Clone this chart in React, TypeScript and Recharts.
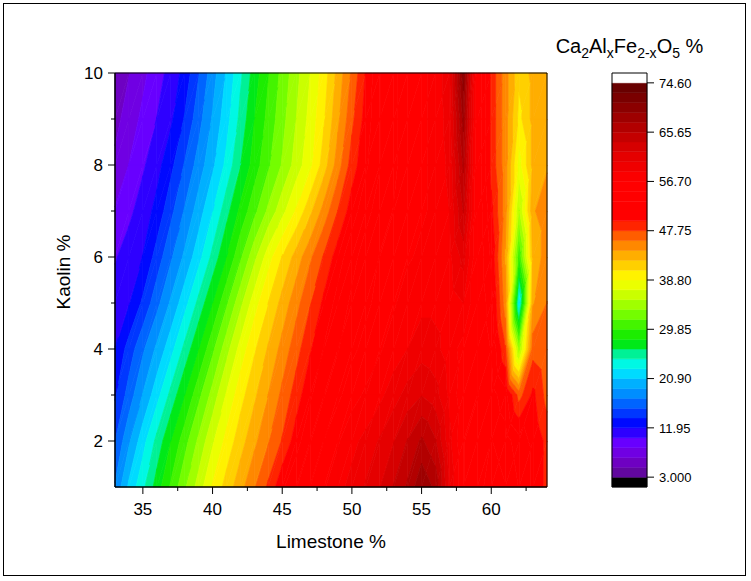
import React from 'react';
import { ScatterChart, Scatter, XAxis, YAxis, ReferenceArea } from 'recharts';

const FONT = '"Liberation Sans", Arial, Helvetica, sans-serif';

// Limestone % (x) and Kaolin % (y) grid
const limestone = [33, 34, 35, 36, 37, 38, 39, 40, 41, 42, 43, 44, 45, 46, 47, 48, 49, 50, 51, 52, 53, 54, 55, 56, 57, 58, 59, 60, 61, 62, 63, 64];
const kaolin = [1, 2, 3, 4, 5, 6, 7, 8, 9, 10];

// Ca2AlxFe2-xO5 % values, one array per Kaolin row (x = 33..64)
const kaolin1 = [17.5, 21.3, 24, 27.1, 30.1, 33.1, 36, 39, 41.3, 43.5, 45.8, 48.1, 51, 53, 55, 56.5, 58, 59, 60.5, 62, 64, 66, 69, 67, 60, 55, 54, 56, 55, 53, 51, 49];
const kaolin2 = [15.5, 18.8, 22, 25, 28, 30.9, 33.8, 36.7, 39.4, 41.6, 43.7, 45.8, 47.9, 50.5, 53, 55, 56.5, 58, 59, 60.5, 62, 64, 66, 64, 59, 55, 54, 55, 54, 52, 51, 49];
const kaolin3 = [13.5, 16.3, 19.2, 22, 25, 28, 31.1, 34.1, 37.2, 39.9, 42, 44.2, 46.4, 48.6, 51, 53, 54.5, 56, 57, 58, 59.5, 61, 62, 61, 58, 55.5, 55, 54, 52, 47, 50, 47];
const kaolin4 = [12, 14.5, 17, 19.5, 22, 25, 28, 31.2, 34.5, 37.7, 40.3, 42.6, 44.8, 47, 49.3, 51.5, 53, 54.5, 55.5, 56.5, 57.5, 58.5, 59.5, 59, 57.5, 56, 55, 53, 48, 34, 47, 46];
const kaolin5 = [11, 11.8, 14.1, 16.7, 19.4, 22, 25, 28, 31.3, 34.7, 38, 40.6, 43, 45.3, 47.6, 50, 52, 53.5, 54.5, 55.5, 56.5, 57.5, 58, 58, 57.5, 58.5, 55, 52, 45, 22, 44, 46];
const kaolin6 = [10, 11, 12, 14.5, 17, 19.5, 22, 25, 28, 31.3, 34.7, 38, 40.7, 43.1, 45.6, 48, 50.5, 52.5, 54, 55, 56, 56.5, 57, 57.5, 58, 61, 55, 51, 44, 30, 43, 45];
const kaolin7 = [8.5, 9.75, 11, 12.5, 15, 17.5, 20, 22.6, 25.6, 28.5, 31.1, 33.8, 36.4, 39, 41.9, 44.9, 47.8, 50.5, 52.5, 54, 55, 56, 56.5, 57, 58.5, 64, 55, 50, 45, 35, 44, 45];
const kaolin8 = [7, 8.4, 9.9, 11.3, 13.2, 15.7, 18.1, 20.5, 23.2, 26.2, 28.9, 31.3, 33.6, 36, 38.3, 41.5, 45.1, 48.6, 51, 53, 54.5, 56, 56.5, 57, 59, 66, 55, 49, 45, 38, 43, 44];
const kaolin9 = [6, 7.4, 8.8, 10.2, 11.6, 13.9, 16.6, 19.3, 22, 25, 28, 30.4, 32.8, 35.2, 37.6, 40.4, 43.8, 47.3, 50.3, 53, 54.5, 56, 56.5, 57, 59.5, 68, 55, 49, 45, 40, 43, 44];
const kaolin10 = [5, 6.5, 7.9, 9.4, 10.8, 12.6, 15.4, 18.3, 21.1, 24.1, 27.1, 29.7, 32.2, 34.6, 37, 39.7, 43, 46.3, 49.7, 53, 54.5, 56, 56.5, 57, 60, 70, 55, 49, 45, 41, 43, 44];
const grid = [kaolin1, kaolin2, kaolin3, kaolin4, kaolin5, kaolin6, kaolin7, kaolin8, kaolin9, kaolin10];

// Axis ticks
const xTicksMajor = [35, 40, 45, 50, 55, 60];
const xTicksMinor = [37.5, 42.5, 47.5, 52.5, 57.5, 62.5];
const yTicksMajor = [2, 4, 6, 8, 10];
const yTicksMinor = [3, 5, 7, 9];
const colorbarTicks = [3, 11.95, 20.9, 29.85, 38.8, 47.75, 56.7, 65.65, 74.6];
const levelsPerLabel = 5;

// contour level edges (each labelled interval split into 5 levels)
const levelEdges: number[] = [];
for (let i = 0; i < colorbarTicks.length - 1; i++) {
  for (let k = 0; k < levelsPerLabel; k++) {
    levelEdges.push(colorbarTicks[i] + ((colorbarTicks[i + 1] - colorbarTicks[i]) * k) / levelsPerLabel);
  }
}
levelEdges.push(colorbarTicks[colorbarTicks.length - 1]);
const NL = levelEdges.length - 1;
const levelStep = levelEdges[1] - levelEdges[0];

// colour map (style)
const colorStops: [number, string][] = [
  [3, '#5a0a8c'], [6, '#7000c8'], [9, '#7000ff'], [11, '#3000ff'], [12.5, '#0000ff'],
  [15, '#0040ff'], [17.5, '#0080ff'], [20, '#00b0ff'], [22, '#00e0ff'], [23.5, '#00f8e8'],
  [25.5, '#00f090'], [27.5, '#00e800'], [30, '#30f000'], [33, '#80ff00'], [36, '#c8ff00'],
  [39, '#ffff00'], [41.5, '#ffd000'], [44, '#ffa000'], [46.5, '#ff6800'], [48.5, '#ff2800'],
  [50, '#ff0000'], [57, '#ff0000'], [62, '#e00000'], [66, '#b80000'], [70, '#8c0000'], [74.6, '#600000'],
];
const hex = (h: string) => [parseInt(h.slice(1, 3), 16), parseInt(h.slice(3, 5), 16), parseInt(h.slice(5, 7), 16)];
function cmap(v: number): string {
  if (v <= colorStops[0][0]) return colorStops[0][1];
  for (let i = 1; i < colorStops.length; i++) {
    if (v <= colorStops[i][0]) {
      const [v0, c0] = colorStops[i - 1];
      const [v1, c1] = colorStops[i];
      const t = (v - v0) / (v1 - v0);
      const a = hex(c0), b = hex(c1);
      const c = a.map((x, k) => Math.round(x + (b[k] - x) * t));
      return `rgb(${c[0]},${c[1]},${c[2]})`;
    }
  }
  return colorStops[colorStops.length - 1][1];
}
function levelColor(k: number): string {
  if (k < 0) return '#000000';
  if (k >= NL) return '#ffffff';
  return cmap((levelEdges[k] + levelEdges[k + 1]) / 2);
}
function levelOf(v: number): number {
  if (v < levelEdges[0]) return -1;
  if (v >= levelEdges[NL]) return NL;
  return Math.min(NL - 1, Math.floor((v - levelEdges[0]) / levelStep));
}

type P = [number, number, number];
function clip(poly: P[], f: (p: P) => number): P[] {
  const out: P[] = [];
  for (let i = 0; i < poly.length; i++) {
    const a = poly[i];
    const b = poly[(i + 1) % poly.length];
    const fa = f(a), fb = f(b);
    if (fa >= 0) out.push(a);
    if ((fa >= 0) !== (fb >= 0)) {
      const t = fa / (fa - fb);
      out.push([a[0] + t * (b[0] - a[0]), a[1] + t * (b[1] - a[1]), a[2] + t * (b[2] - a[2])]);
    }
  }
  return out;
}

function renderCell(p: any, i: number, j: number) {
  const { x, y, width, height } = p;
  if (![x, y, width, height].every((n: any) => Number.isFinite(n))) return <g />;
  const BL: P = [x, y + height, grid[j][i]];
  const BR: P = [x + width, y + height, grid[j][i + 1]];
  const TL: P = [x, y, grid[j + 1][i]];
  const TR: P = [x + width, y, grid[j + 1][i + 1]];
  const tris: P[][] = [[BL, BR, TR], [BL, TR, TL]];
  const els: React.ReactElement[] = [];
  tris.forEach((tri, ti) => {
    const vs = tri.map((q) => q[2]);
    const k0 = levelOf(Math.min(...vs));
    const k1 = levelOf(Math.max(...vs));
    for (let k = k0; k <= k1; k++) {
      let poly = tri;
      if (k >= 0) { const lo = levelEdges[k]; poly = clip(poly, (q) => q[2] - lo); }
      if (k < NL) { const hi = levelEdges[k + 1]; poly = clip(poly, (q) => hi - q[2]); }
      if (poly.length < 3) continue;
      const d = 'M' + poly.map((q) => `${q[0].toFixed(2)},${q[1].toFixed(2)}`).join('L') + 'Z';
      const c = levelColor(k);
      els.push(<path key={`${ti}-${k}`} d={d} fill={c} stroke={c} strokeWidth={0.7} strokeLinejoin="round" />);
    }
  });
  return <g>{els}</g>;
}

const points = kaolin.flatMap((yv, j) => limestone.map((xv, i) => ({ x: xv, y: yv, z: grid[j][i] })));

const XTick = (props: any) => {
  const { x, y, payload } = props;
  const major = xTicksMajor.includes(payload.value);
  return (
    <g>
      <line x1={x} x2={x} y1={y} y2={y + (major ? 7 : 4)} stroke="#000" strokeWidth={1} />
      {major && (
        <text x={x} y={y + 28} textAnchor="middle" fontSize={17} fontFamily={FONT} fill="#000">{payload.value}</text>
      )}
    </g>
  );
};
const YTick = (props: any) => {
  const { x, y, payload } = props;
  const major = yTicksMajor.includes(payload.value);
  return (
    <g>
      <line x1={x} x2={x - (major ? 7 : 4)} y1={y} y2={y} stroke="#000" strokeWidth={1} />
      {major && (
        <text x={x - 12} y={y} dy="0.36em" textAnchor="end" fontSize={17} fontFamily={FONT} fill="#000">{payload.value}</text>
      )}
    </g>
  );
};
const CbTick = (props: any) => {
  const { x, y, payload } = props;
  const v = payload.value as number;
  const label = v === 3 ? '3.000' : v.toFixed(2);
  return (
    <g>
      <line x1={x} x2={x + 7} y1={y} y2={y} stroke="#000" strokeWidth={1} />
      <text x={x + 12} y={y} dy="0.36em" textAnchor="start" fontSize={13} fontFamily={FONT} fill="#000">{label}</text>
    </g>
  );
};

const cbLevels = Array.from({ length: NL + 2 }, (_, n) => n - 1);
const cbMin = levelEdges[0] - levelStep;
const cbMax = levelEdges[NL] + levelStep;

export default function App() {
  const xTicks = [...xTicksMajor, ...xTicksMinor].sort((a, b) => a - b);
  const yTicks = [...yTicksMajor, ...yTicksMinor].sort((a, b) => a - b);
  const cells: React.ReactElement[] = [];
  for (let j = 0; j < kaolin.length - 1; j++) {
    for (let i = 0; i < limestone.length - 1; i++) {
      cells.push(
        <ReferenceArea
          key={`c${i}-${j}`}
          x1={limestone[i]}
          x2={limestone[i + 1]}
          y1={kaolin[j]}
          y2={kaolin[j + 1]}
          ifOverflow="visible"
          shape={(p: any) => renderCell(p, i, j)}
        />
      );
    }
  }
  return (
    <div style={{ position: 'absolute', left: 0, top: 0, width: 751, height: 581, background: '#fff' }}>
      <div style={{ position: 'absolute', left: 3, top: 3, width: 743, height: 573, border: '1px solid #000', boxSizing: 'border-box' }} />
      <div style={{ position: 'absolute', left: 0, top: 0 }}>
        <ScatterChart width={751} height={581} margin={{ top: 73, right: 204, bottom: 64, left: 55 }}>
          <XAxis
            type="number" dataKey="x" domain={[33, 64]} ticks={xTicks} interval={0}
            tick={<XTick />} tickLine={false} tickSize={0} tickMargin={0} height={30}
            axisLine={{ stroke: '#000' }} allowDataOverflow
            label={{
              content: (lp: any) => {
                const vb = lp.viewBox || { x: 115, y: 487, width: 432 };
                return (
                  <text x={vb.x + vb.width / 2} y={vb.y + 61} textAnchor="middle" fontSize={19} fontFamily={FONT} fill="#000">Limestone %</text>
                );
              },
            }}
          />
          <YAxis
            type="number" dataKey="y" domain={[1, 10]} ticks={yTicks} interval={0}
            tick={<YTick />} tickLine={false} tickSize={0} tickMargin={0} width={60}
            axisLine={{ stroke: '#000' }} allowDataOverflow
            label={{
              content: (lp: any) => {
                const vb = lp.viewBox || { x: 55, y: 73, width: 60, height: 414 };
                const cx = vb.x + 15;
                const cy = vb.y + vb.height / 2 - 8;
                return (
                  <text x={cx} y={cy} transform={`rotate(-90, ${cx}, ${cy})`} textAnchor="middle" fontSize={19} fontFamily={FONT} fill="#000">Kaolin %</text>
                );
              },
            }}
          />
          {cells}
          <Scatter data={points} shape={() => <g />} isAnimationActive={false} />
          <ReferenceArea x1={33} x2={64} y1={1} y2={10} fill="none" stroke="#000" strokeWidth={1} ifOverflow="visible" />
        </ScatterChart>
      </div>
      <div style={{ position: 'absolute', left: 0, top: 0 }}>
        <ScatterChart width={751} height={581} margin={{ top: 73, right: 44, bottom: 94, left: 612 }}>
          <XAxis type="number" dataKey="x" domain={[0, 1]} hide />
          <YAxis
            type="number" dataKey="y" orientation="right" domain={[cbMin, cbMax]} ticks={colorbarTicks} interval={0}
            tick={<CbTick />} tickLine={false} tickSize={0} tickMargin={0} width={60} axisLine={false} allowDataOverflow
            label={{
              content: () => {
                const cx = 629.5;
                return (
                  <text x={cx} y={53} textAnchor="middle" fontSize={20} fontFamily={FONT} fill="#000">
                    Ca<tspan dy={5} fontSize={14}>2</tspan><tspan dy={-5}>Al</tspan><tspan dy={5} fontSize={14}>x</tspan><tspan dy={-5}>Fe</tspan><tspan dy={5} fontSize={14}>2-x</tspan><tspan dy={-5}>O</tspan><tspan dy={5} fontSize={14}>5</tspan><tspan dy={-5}> %</tspan>
                  </text>
                );
              },
            }}
          />
          {cbLevels.map((k) => (
            <ReferenceArea
              key={`cb${k}`}
              x1={0} x2={1}
              y1={k < 0 ? cbMin : levelEdges[k]}
              y2={k >= NL ? cbMax : levelEdges[k + 1]}
              fill={levelColor(k)} fillOpacity={1} stroke={levelColor(k)} strokeWidth={0.5} ifOverflow="visible"
            />
          ))}
          <Scatter data={colorbarTicks.map((v) => ({ x: 0.5, y: v }))} shape={() => <g />} isAnimationActive={false} />
          <ReferenceArea x1={0} x2={1} y1={cbMin} y2={cbMax} fill="none" stroke="#000" strokeWidth={1} ifOverflow="visible" />
        </ScatterChart>
      </div>
    </div>
  );
}
